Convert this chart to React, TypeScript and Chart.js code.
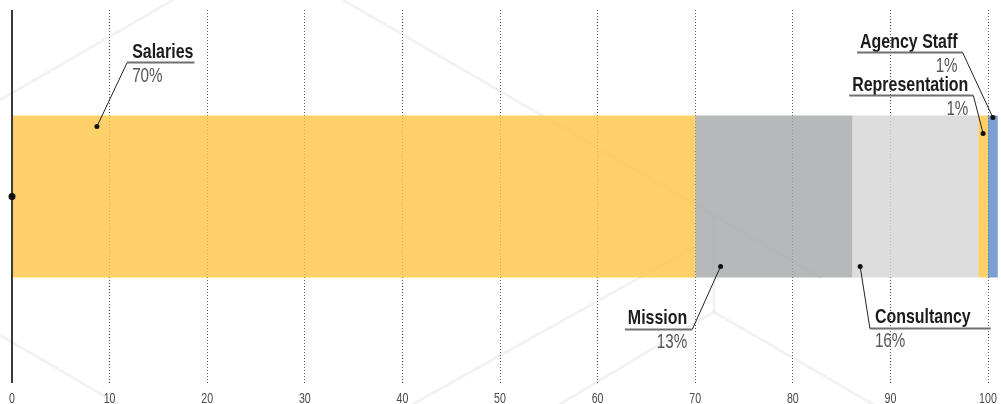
import React, { useEffect, useRef } from "react";
import { Chart, registerables } from "chart.js";

Chart.register(...registerables);

// ---------- data ----------
const categories = ["Expenditure"];
const seriesNames = ["Salaries", "Mission", "Consultancy", "Representation", "Agency Staff"];
const seriesValues = [70, 16.1, 12.9, 1, 1];
const labelPercents = ["70%", "13%", "16%", "1%", "1%"];
const xTickValues = [0, 10, 20, 30, 40, 50, 60, 70, 80, 90, 100];

// ---------- styles ----------
const seriesColors = [
  "rgba(252,196,68,0.8)",
  "rgba(165,166,168,0.8)",
  "rgba(212,212,212,0.8)",
  "rgba(252,196,68,0.8)",
  "rgba(89,135,200,0.8)",
];

// callout layout: dot position in data units, offsets in px
const callouts = [
  { series: 0, dotValue: 8.7, edge: "top", dotDy: 11, lineDy: -53, elbow: 11.8, align: "left", extra: 0 },
  { series: 1, dotValue: 72.6, edge: "bottom", dotDy: -11, lineDy: 52, elbow: 69.7, align: "right", extra: 0 },
  { series: 2, dotValue: 86.9, edge: "bottom", dotDy: -11, lineDy: 51, elbow: 87.9, align: "left", extra: 19 },
  { series: 3, dotValue: 99.5, edge: "top", dotDy: 18, lineDy: -20, elbow: 98.5, align: "right", extra: 0 },
  { series: 4, dotValue: 100.5, edge: "top", dotDy: 2, lineDy: -63, elbow: 97.4, align: "right", extra: 0 },
];

const COND = 0.76;
const FONT = "'Liberation Sans', Arial, sans-serif";

function condText(ctx: CanvasRenderingContext2D, text: string, x: number, y: number, font: string, color: string, align: "left" | "right" | "center") {
  ctx.save();
  ctx.font = font;
  ctx.fillStyle = color;
  ctx.textBaseline = "alphabetic";
  ctx.textAlign = "left";
  const w = ctx.measureText(text).width * COND;
  let sx = x;
  if (align === "right") sx = x - w;
  else if (align === "center") sx = x - w / 2;
  ctx.translate(sx, y);
  ctx.scale(COND, 1);
  ctx.fillText(text, 0, 0);
  ctx.restore();
  return w;
}

function measureCond(ctx: CanvasRenderingContext2D, text: string, font: string) {
  ctx.save();
  ctx.font = font;
  const w = ctx.measureText(text).width * COND;
  ctx.restore();
  return w;
}

const watermarkPlugin = {
  id: "watermark",
  beforeDraw(chart: any) {
    const ctx = chart.ctx as CanvasRenderingContext2D;
    ctx.save();
    ctx.strokeStyle = "rgba(0,0,0,0.05)";
    ctx.lineWidth = 3;
    const segs = [
      [0, 100, 173, 0],
      [343, 0, 822, 278],
      [714, 216, 714, 312],
      [714, 312, 530, 422],
      [714, 312, 900, 420],
      [413, 404, 700, 244],
      [0, 335, 118, 404],
    ];
    for (const s of segs) {
      ctx.beginPath();
      ctx.moveTo(s[0], s[1]);
      ctx.lineTo(s[2], s[3]);
      ctx.stroke();
    }
    ctx.restore();
  },
};

const annotationPlugin = {
  id: "annot",
  afterDraw(chart: any) {
    const ctx = chart.ctx as CanvasRenderingContext2D;
    const xs = chart.scales.x;
    const area = chart.chartArea;

    // tick labels
    for (const t of xs.ticks) {
      const px = xs.getPixelForValue(t.value);
      condText(ctx, String(t.value), px, 403, `14px ${FONT}`, "#4a4a4a", "center");
    }

    // y axis line
    const bar0 = chart.getDatasetMeta(0).data[0];
    ctx.save();
    ctx.strokeStyle = "#3a3a3a";
    ctx.lineWidth = 2;
    ctx.beginPath();
    ctx.moveTo(area.left, area.top);
    ctx.lineTo(area.left, area.bottom);
    ctx.stroke();
    ctx.fillStyle = "#111";
    ctx.beginPath();
    ctx.arc(area.left, bar0.y, 3.5, 0, Math.PI * 2);
    ctx.fill();
    ctx.restore();

    const nameFont = `bold 21px ${FONT}`;
    const pctFont = `20px ${FONT}`;

    for (const c of callouts) {
      const el = chart.getDatasetMeta(c.series).data[0];
      const top = el.y - el.height / 2;
      const bottom = el.y + el.height / 2;
      const ref = c.edge === "top" ? top : bottom;
      const dotX = xs.getPixelForValue(c.dotValue);
      const dotY = ref + c.dotDy;
      const lineY = ref + c.lineDy;
      const ex = xs.getPixelForValue(c.elbow);
      const name = seriesNames[c.series];
      const pct = labelPercents[c.series];
      const nw = measureCond(ctx, name, nameFont);

      let ulStart: number, ulEnd: number;
      if (c.align === "left") {
        condText(ctx, name, ex + 5, lineY - 5, nameFont, "#1c1c1c", "left");
        condText(ctx, pct, ex + 5, lineY + 19, pctFont, "#555", "left");
        ulStart = ex;
        ulEnd = ex + 5 + nw + 1 + c.extra;
      } else {
        condText(ctx, name, ex - 5, lineY - 5, nameFont, "#1c1c1c", "right");
        condText(ctx, pct, ex - 5, lineY + 19, pctFont, "#555", "right");
        ulStart = ex - 5 - nw - 3;
        ulEnd = ex;
      }

      ctx.save();
      ctx.strokeStyle = "#707070";
      ctx.lineWidth = 2;
      ctx.beginPath();
      ctx.moveTo(ulStart, lineY);
      ctx.lineTo(ulEnd, lineY);
      ctx.stroke();

      ctx.strokeStyle = "#222";
      ctx.lineWidth = 1;
      ctx.beginPath();
      ctx.moveTo(ex, lineY);
      ctx.lineTo(dotX, dotY);
      ctx.stroke();

      ctx.fillStyle = "#111";
      ctx.beginPath();
      ctx.arc(dotX, dotY, 2.5, 0, Math.PI * 2);
      ctx.fill();
      ctx.restore();
    }
  },
};

export default function App() {
  const ref = useRef<HTMLCanvasElement>(null);

  useEffect(() => {
    if (!ref.current) return;
    const chart = new Chart(ref.current, {
      type: "bar",
      data: {
        labels: categories,
        datasets: seriesNames.map((n, i) => ({
          label: n,
          data: [seriesValues[i]],
          backgroundColor: seriesColors[i],
          borderWidth: 0,
          clip: false as any,
          barPercentage: 1,
          categoryPercentage: 0.434,
        })),
      },
      options: {
        indexAxis: "y",
        responsive: false,
        animation: false,
        events: [],
        layout: { padding: { left: 12, right: 13, top: 10, bottom: 21 } },
        plugins: { legend: { display: false }, tooltip: { enabled: false } },
        scales: {
          x: {
            stacked: true,
            min: 0,
            max: 100,
            afterBuildTicks: (scale: any) => {
              scale.ticks = xTickValues.map((v) => ({ value: v }));
            },
            ticks: { display: false },
            grid: {
              drawTicks: false,
              color: (c: any) => (c.tick && c.tick.value === 0 ? "rgba(0,0,0,0)" : "#5a5a5a"),
              lineWidth: 1,
            },
            border: { display: false, dash: [1, 2] },
          },
          y: {
            stacked: true,
            display: false,
          },
        },
      },
      plugins: [watermarkPlugin, annotationPlugin],
    });
    return () => chart.destroy();
  }, []);

  return (
    <div style={{ position: "absolute", left: 0, top: 0, width: 1001, height: 404, background: "#fff" }}>
      <canvas ref={ref} width={1001} height={404} style={{ display: "block" }} />
    </div>
  );
}
